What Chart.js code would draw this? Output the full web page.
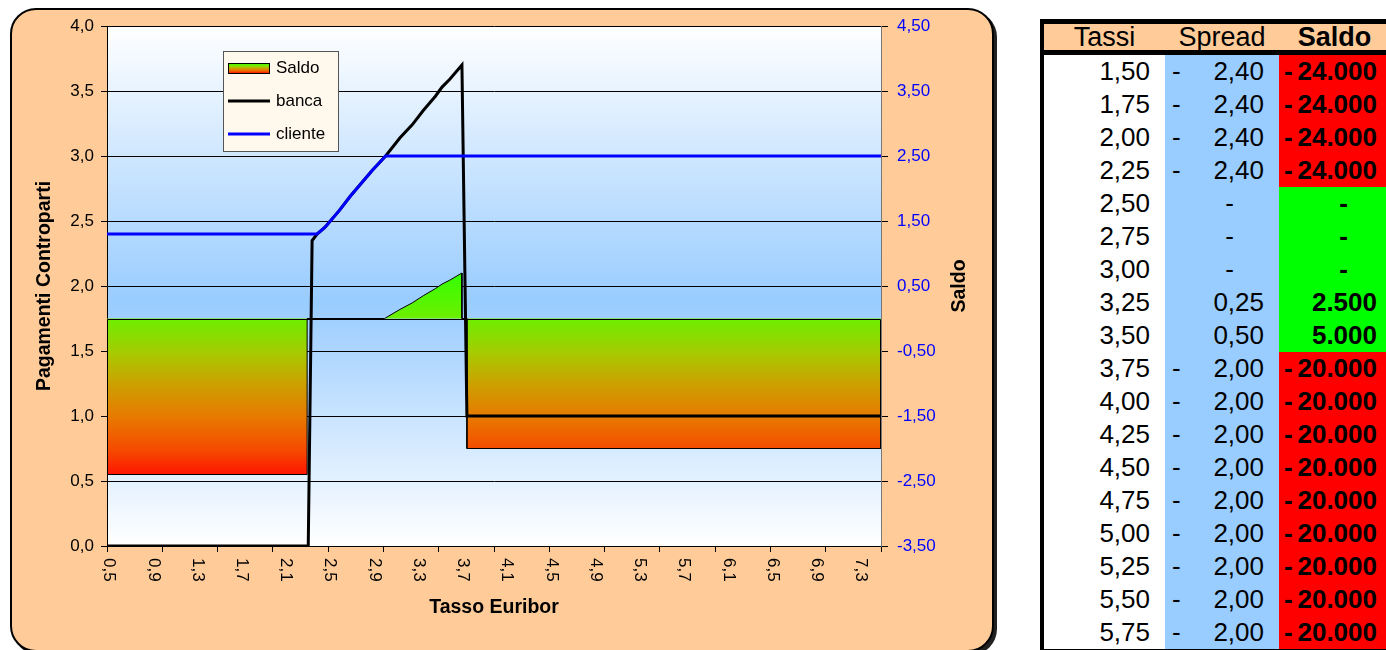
<!DOCTYPE html>
<html>
<head>
<meta charset="utf-8">
<script src="https://cdn.jsdelivr.net/npm/chart.js@4.4.1/dist/chart.umd.min.js"></script>
<style>
  html, body { margin: 0; padding: 0; background: #fff; width: 1386px; height: 650px; overflow: hidden; }
  body { position: relative; font-family: "Liberation Sans", Arial, sans-serif; }
  #frame { position: absolute; left: 10px; top: 8px; width: 980px; height: 640px; background: #FFCC99;
           border: 2px solid #000; border-radius: 26px; box-shadow: 3px 3px 0 #222; }
  #chart { position: absolute; left: 0; top: 0; }
  #tbl { position: absolute; left: 1040px; top: 19px; width: 354px; border-collapse: separate; border-spacing: 0;
         table-layout: fixed; border: 4px solid #000; border-top-width: 5px; font-size: 26px; color: #000; }
  #tbl th { height: 26px; padding: 0; background: #FFCC99; font-weight: normal; font-size: 27px;
            border-bottom: 5px solid #000; line-height: 26px; }
  #tbl th.b { font-weight: bold; }
  #tbl td { height: 33px; padding: 0; line-height: 33px; }
  td.t { background: #fff; text-align: right; padding-right: 15px !important; }
  td.s { background: #99CCFF; }
  td.d { font-weight: bold; }
  td.neg { background: #FF0000; }
  td.pos { background: #00FF00; }
  .cell { display: flex; justify-content: space-between; }
  .s .cell { padding: 0 15px 0 7px; }
  .d .cell { padding: 0 13px 0 5px; }
  .s .zero { justify-content: flex-end; padding-right: 45px; }
  .d .zero { justify-content: flex-end; padding-right: 42px; }
</style>
</head>
<body>
<div id="frame"></div>
<canvas id="chart" width="1000" height="650"></canvas>
<table id="tbl">
  <colgroup><col style="width:121px"><col style="width:114px"><col style="width:111px"></colgroup>
  <thead><tr><th>Tassi</th><th>Spread</th><th class="b">Saldo</th></tr></thead>
  <tbody id="rows"></tbody>
</table>
<script>
// axis ticks
const xLabelValues = [0.5, 0.9, 1.3, 1.7, 2.1, 2.5, 2.9, 3.3, 3.7, 4.1, 4.5, 4.9, 5.3, 5.7, 6.1, 6.5, 6.9, 7.3];
const leftTicks = [0, 0.5, 1, 1.5, 2, 2.5, 3, 3.5, 4];
const rightTicks = [-3.5, -2.5, -1.5, -0.5, 0.5, 1.5, 2.5, 3.5, 4.5];

// Saldo (right axis)
const saldoX = [0.5, 2.31, 2.31, 3.01, 3.15, 3.26, 3.36, 3.47, 3.53, 3.6, 3.71, 3.71, 3.755, 3.755, 7.5];
const saldoY = [-2.4, -2.4, 0, 0, 0.14, 0.24, 0.35, 0.46, 0.53, 0.59, 0.70, 0, 0, -2.0, -2.0];

// banca (left axis)
const bancaX = [0.5, 2.32, 2.355, 2.40, 2.47, 2.6, 2.7, 2.8, 2.9, 3.02, 3.15, 3.26, 3.36, 3.47, 3.53, 3.6, 3.71, 3.755, 7.5];
const bancaY = [0, 0, 2.35, 2.40, 2.45, 2.58, 2.69, 2.79, 2.89, 3.0, 3.14, 3.24, 3.35, 3.46, 3.53, 3.59, 3.70, 1.0, 1.0];

// cliente (left axis)
const clienteX = [0.5, 2.4, 2.47, 2.6, 2.7, 2.8, 2.9, 3.02, 7.5];
const clienteY = [2.4, 2.4, 2.45, 2.58, 2.69, 2.79, 2.89, 3.0, 3.0];

// table
const tassiTab = [1.50, 1.75, 2.00, 2.25, 2.50, 2.75, 3.00, 3.25, 3.50, 3.75, 4.00, 4.25, 4.50, 4.75, 5.00, 5.25, 5.50, 5.75];
const spreadTab = [-2.40, -2.40, -2.40, -2.40, 0, 0, 0, 0.25, 0.50, -2.00, -2.00, -2.00, -2.00, -2.00, -2.00, -2.00, -2.00, -2.00];
const saldoTab = [-24000, -24000, -24000, -24000, 0, 0, 0, 2500, 5000, -20000, -20000, -20000, -20000, -20000, -20000, -20000, -20000, -20000];

const FONT = "'Liberation Sans', Arial, sans-serif";
const comma = (v, d) => v.toFixed(d).replace('.', ',');
const thousands = v => String(Math.abs(v)).replace(/\B(?=(\d{3})+(?!\d))/g, '.');

// fill table
const tbody = document.getElementById('rows');
tassiTab.forEach((t, i) => {
  const sp = spreadTab[i], sa = saldoTab[i];
  const spHtml = sp === 0 ? '<div class="cell zero">-</div>'
    : `<div class="cell"><span>${sp < 0 ? '-' : ''}</span><span>${comma(Math.abs(sp), 2)}</span></div>`;
  const saHtml = sa === 0 ? '<div class="cell zero">-</div>'
    : `<div class="cell"><span>${sa < 0 ? '-' : ''}</span><span>${thousands(sa)}</span></div>`;
  const tr = document.createElement('tr');
  tr.innerHTML = `<td class="t">${comma(t, 2)}</td><td class="s">${spHtml}</td><td class="d ${sa < 0 ? 'neg' : 'pos'}">${saHtml}</td>`;
  tbody.appendChild(tr);
});

const pts = (xs, ys) => xs.map((x, i) => ({ x: x, y: ys[i] }));

function saldoGradient(ctx, top, bottom) {
  const g = ctx.createLinearGradient(0, top, 0, bottom);
  g.addColorStop(0, '#33FF00');
  g.addColorStop(0.23, '#6EEE00');
  g.addColorStop(0.4, '#A8CA00');
  g.addColorStop(0.55, '#CCA000');
  g.addColorStop(0.72, '#E87800');
  g.addColorStop(0.88, '#F54A00');
  g.addColorStop(1, '#FF1500');
  return g;
}

const decor = {
  id: 'decor',
  beforeDraw(chart) {
    const { ctx, chartArea: a } = chart;
    const g = ctx.createLinearGradient(0, a.top, 0, a.bottom);
    g.addColorStop(0, '#FFFFFF');
    g.addColorStop(0.53, '#99CCFF');
    g.addColorStop(1, '#FFFFFF');
    ctx.save();
    ctx.fillStyle = g;
    ctx.fillRect(a.left, a.top, a.right - a.left, a.bottom - a.top);
    ctx.restore();
  },
  afterDatasetDraw(chart, args) {
    if (args.index !== 0) return;
    // outline of the saldo area along its base
    const { ctx, chartArea: a, scales } = chart;
    const y1 = scales.y1;
    const y0 = Math.round(y1.getPixelForValue(0)) + 0.5;
    ctx.save();
    ctx.strokeStyle = '#000';
    ctx.lineWidth = 1;
    ctx.beginPath();
    ctx.moveTo(a.left + 0.5, y1.getPixelForValue(saldoY[0]));
    ctx.lineTo(a.left + 0.5, y0);
    ctx.lineTo(a.right - 0.5, y0);
    ctx.lineTo(a.right - 0.5, y1.getPixelForValue(saldoY[saldoY.length - 1]));
    ctx.stroke();
    ctx.restore();
  },
  afterDraw(chart) {
    const { ctx, chartArea: a, scales } = chart;
    ctx.save();
    // x tick labels, rotated clockwise
    ctx.fillStyle = '#000';
    ctx.font = '17px ' + FONT;
    ctx.textAlign = 'left';
    ctx.textBaseline = 'middle';
    xLabelValues.forEach(v => {
      ctx.save();
      ctx.translate(scales.x.getPixelForValue(v) + 2, a.bottom + 12);
      ctx.rotate(Math.PI / 2);
      ctx.fillText(comma(v, 1), 0, 0);
      ctx.restore();
    });
    // right axis title
    ctx.save();
    ctx.font = 'bold 19.5px ' + FONT;
    ctx.textAlign = 'center';
    ctx.translate(a.right + 79, (a.top + a.bottom) / 2);
    ctx.rotate(-Math.PI / 2);
    ctx.fillText('Saldo', 0, 0);
    ctx.restore();
    // legend
    const lx = a.left + 116, ly = a.top + 25, lw = 115, lh = 100;
    ctx.fillStyle = '#FFF8EC';
    ctx.fillRect(lx, ly, lw, lh);
    ctx.strokeStyle = '#555';
    ctx.lineWidth = 1;
    ctx.strokeRect(lx + 0.5, ly + 0.5, lw, lh);
    const ds = chart.data.datasets;
    ds.forEach((d, i) => {
      const ry = ly + 17 + i * 33;
      if (i === 0) {
        ctx.fillStyle = saldoGradient(ctx, ry - 5, ry + 5);
        ctx.fillRect(lx + 5, ry - 5, 41, 10);
        ctx.strokeStyle = '#000';
        ctx.strokeRect(lx + 5.5, ry - 4.5, 41, 10);
      } else {
        ctx.strokeStyle = d.borderColor;
        ctx.lineWidth = 3;
        ctx.beginPath();
        ctx.moveTo(lx + 5, ry);
        ctx.lineTo(lx + 47, ry);
        ctx.stroke();
        ctx.lineWidth = 1;
      }
      ctx.fillStyle = '#000';
      ctx.font = '17px ' + FONT;
      ctx.textAlign = 'left';
      ctx.fillText(d.label, lx + 53, ry);
    });
    ctx.restore();
  }
};

Chart.defaults.font.family = FONT;
Chart.defaults.color = '#000';

new Chart(document.getElementById('chart'), {
  type: 'line',
  data: {
    datasets: [
      {
        label: 'Saldo',
        data: pts(saldoX, saldoY),
        yAxisID: 'y1',
        fill: 'origin',
        borderColor: '#000',
        borderWidth: 1,
        backgroundColor: c => {
          const ch = c.chart;
          if (!ch.chartArea || !ch.scales.y1) return '#7EE000';
          const y1 = ch.scales.y1;
          return saldoGradient(ch.ctx, y1.getPixelForValue(Math.max(...saldoY)), y1.getPixelForValue(Math.min(...saldoY)));
        },
        order: 3
      },
      {
        label: 'banca',
        data: pts(bancaX, bancaY),
        yAxisID: 'y',
        borderColor: '#000',
        borderWidth: 3,
        fill: false,
        order: 2
      },
      {
        label: 'cliente',
        data: pts(clienteX, clienteY),
        yAxisID: 'y',
        borderColor: '#0000FF',
        borderWidth: 3,
        fill: false,
        order: 1
      }
    ]
  },
  options: {
    responsive: false,
    animation: false,
    devicePixelRatio: 1,
    layout: { padding: { top: 26, left: 0, right: 0, bottom: 0 } },
    elements: { point: { radius: 0 }, line: { tension: 0 } },
    plugins: { legend: { display: false }, tooltip: { enabled: false } },
    scales: {
      x: {
        type: 'linear',
        min: 0.5,
        max: 7.5,
        ticks: { display: false, stepSize: 0.5 },
        grid: { drawOnChartArea: false, drawTicks: true, tickLength: 6, color: '#000' },
        border: { color: '#000' },
        title: { display: true, text: 'Tasso Euribor', font: { size: 19.5, weight: 'bold' }, padding: { top: 0, bottom: 31 } },
        afterFit: s => { s.height = 104; }
      },
      y: {
        position: 'left',
        min: 0,
        max: 4,
        afterBuildTicks: s => { s.ticks = leftTicks.map(v => ({ value: v })); },
        ticks: { font: { size: 17 }, padding: 7, callback: v => comma(v, 1) },
        grid: { color: '#000', lineWidth: 1, tickLength: 6 },
        border: { color: '#000' },
        title: { display: true, text: 'Pagamenti Controparti', font: { size: 19.5, weight: 'bold' }, padding: { top: 33, bottom: 0 } },
        afterFit: s => { s.width = 107; }
      },
      y1: {
        position: 'right',
        min: -3.5,
        max: 4.5,
        afterBuildTicks: s => { s.ticks = rightTicks.map(v => ({ value: v })); },
        ticks: { font: { size: 17 }, color: '#0000FF', padding: 9, callback: v => comma(v, 2) },
        grid: { drawOnChartArea: false, color: '#000', tickLength: 7 },
        border: { color: '#777' },
        afterFit: s => { s.width = 119; }
      }
    }
  },
  plugins: [decor]
});
</script>
</body>
</html>
